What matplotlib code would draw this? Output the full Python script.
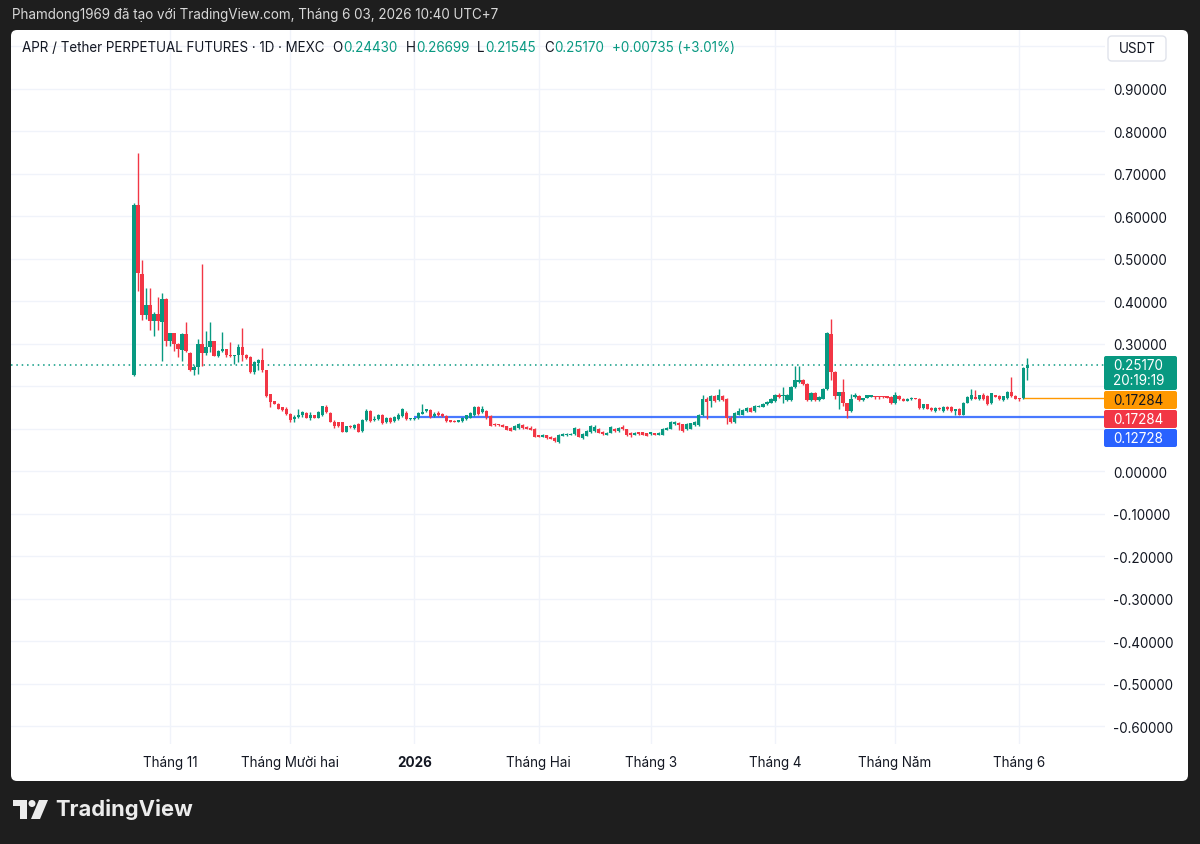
import matplotlib.pyplot as plt
import matplotlib.dates as mdates
from matplotlib.patches import FancyBboxPatch, Rectangle, Polygon, Circle
from matplotlib.transforms import IdentityTransform
import pandas as pd

plt.rcParams['font.family'] = ['Inter', 'DejaVu Sans']

W, H = 1200, 845
UP = '#089981'
DOWN = '#f23645'
INK = '#131722'
GRID = '#f0f3fa'

# daily candles APR/USDT perpetual, 23 Oct 2025 -> 3 Jun 2026
start = '2025-10-23'
opens = [
    0.226, 0.627, 0.465, 0.368, 0.391, 0.354, 0.370, 0.352,
    0.407, 0.308, 0.327, 0.300, 0.286, 0.323, 0.279, 0.238,
    0.246, 0.300, 0.278, 0.292, 0.307, 0.271, 0.284, 0.288,
    0.273, 0.271, 0.273, 0.292, 0.274, 0.269, 0.234, 0.256,
    0.263, 0.238, 0.182, 0.165, 0.159, 0.151, 0.148, 0.136,
    0.123, 0.128, 0.133, 0.137, 0.126, 0.133, 0.126, 0.133,
    0.152, 0.137, 0.117, 0.116, 0.116, 0.094, 0.108, 0.103,
    0.111, 0.095, 0.121, 0.142, 0.120, 0.124, 0.134, 0.117,
    0.126, 0.118, 0.124, 0.130, 0.138, 0.124, 0.124, 0.126,
    0.136, 0.142, 0.144, 0.131, 0.138, 0.136, 0.131, 0.121,
    0.119, 0.117, 0.118, 0.123, 0.126, 0.133, 0.152, 0.140,
    0.142, 0.131, 0.111, 0.111, 0.109, 0.106, 0.103, 0.098,
    0.102, 0.110, 0.105, 0.103, 0.101, 0.086, 0.081, 0.086,
    0.082, 0.079, 0.069, 0.084, 0.085, 0.086, 0.088, 0.100,
    0.078, 0.084, 0.092, 0.095, 0.101, 0.093, 0.087, 0.091,
    0.101, 0.095, 0.105, 0.099, 0.091, 0.086, 0.093, 0.093,
    0.090, 0.088, 0.090, 0.087, 0.087, 0.098, 0.101, 0.111,
    0.115, 0.111, 0.099, 0.101, 0.109, 0.109, 0.132, 0.171,
    0.166, 0.177, 0.168, 0.177, 0.170, 0.127, 0.116, 0.134,
    0.134, 0.142, 0.150, 0.142, 0.152, 0.152, 0.158, 0.162,
    0.166, 0.181, 0.177, 0.168, 0.168, 0.199, 0.210, 0.215,
    0.207, 0.168, 0.185, 0.168, 0.171, 0.194, 0.324, 0.234,
    0.177, 0.186, 0.160, 0.142, 0.175, 0.178, 0.168, 0.173,
    0.176, 0.177, 0.177, 0.177, 0.177, 0.176, 0.160, 0.177,
    0.171, 0.166, 0.170, 0.173, 0.171, 0.150, 0.158, 0.150,
    0.142, 0.150, 0.142, 0.152, 0.152, 0.142, 0.148, 0.134,
    0.162, 0.171, 0.176, 0.171, 0.179, 0.177, 0.160, 0.179,
    0.177, 0.168, 0.173, 0.187, 0.177, 0.173, 0.17284, 0.24430,
]
highs = [
    0.632, 0.749, 0.497, 0.432, 0.432, 0.375, 0.410, 0.421,
    0.408, 0.327, 0.327, 0.302, 0.325, 0.351, 0.281, 0.251,
    0.312, 0.488, 0.331, 0.351, 0.307, 0.287, 0.329, 0.288,
    0.304, 0.274, 0.300, 0.337, 0.277, 0.271, 0.261, 0.265,
    0.290, 0.238, 0.183, 0.167, 0.161, 0.152, 0.151, 0.137,
    0.133, 0.147, 0.142, 0.139, 0.140, 0.134, 0.142, 0.155,
    0.156, 0.139, 0.121, 0.117, 0.117, 0.108, 0.109, 0.111,
    0.113, 0.123, 0.146, 0.144, 0.130, 0.136, 0.136, 0.128,
    0.129, 0.131, 0.138, 0.150, 0.142, 0.127, 0.127, 0.141,
    0.158, 0.148, 0.146, 0.140, 0.142, 0.138, 0.133, 0.122,
    0.120, 0.122, 0.128, 0.134, 0.140, 0.153, 0.153, 0.153,
    0.144, 0.133, 0.113, 0.112, 0.111, 0.108, 0.104, 0.109,
    0.113, 0.112, 0.106, 0.106, 0.103, 0.087, 0.088, 0.087,
    0.083, 0.080, 0.088, 0.090, 0.090, 0.091, 0.104, 0.102,
    0.090, 0.097, 0.109, 0.110, 0.103, 0.095, 0.093, 0.107,
    0.103, 0.105, 0.109, 0.101, 0.092, 0.092, 0.094, 0.094,
    0.091, 0.094, 0.091, 0.092, 0.102, 0.105, 0.118, 0.118,
    0.116, 0.112, 0.113, 0.115, 0.118, 0.135, 0.181, 0.176,
    0.180, 0.180, 0.193, 0.179, 0.172, 0.130, 0.140, 0.150,
    0.147, 0.152, 0.152, 0.156, 0.157, 0.160, 0.166, 0.172,
    0.183, 0.185, 0.199, 0.183, 0.201, 0.249, 0.248, 0.217,
    0.209, 0.187, 0.187, 0.178, 0.197, 0.328, 0.359, 0.236,
    0.188, 0.218, 0.162, 0.183, 0.185, 0.180, 0.174, 0.181,
    0.180, 0.178, 0.178, 0.178, 0.178, 0.177, 0.186, 0.179,
    0.172, 0.172, 0.176, 0.174, 0.172, 0.159, 0.159, 0.151,
    0.151, 0.151, 0.153, 0.153, 0.153, 0.147, 0.150, 0.163,
    0.178, 0.193, 0.191, 0.181, 0.184, 0.179, 0.185, 0.181,
    0.179, 0.178, 0.189, 0.223, 0.179, 0.174, 0.246, 0.26699,
]
lows = [
    0.224, 0.425, 0.356, 0.358, 0.333, 0.319, 0.333, 0.259,
    0.296, 0.296, 0.284, 0.269, 0.259, 0.281, 0.236, 0.226,
    0.230, 0.249, 0.273, 0.281, 0.271, 0.269, 0.281, 0.269,
    0.269, 0.253, 0.257, 0.261, 0.265, 0.231, 0.230, 0.238,
    0.235, 0.176, 0.152, 0.158, 0.146, 0.142, 0.134, 0.116,
    0.116, 0.125, 0.129, 0.125, 0.121, 0.125, 0.125, 0.131,
    0.137, 0.116, 0.103, 0.105, 0.092, 0.092, 0.102, 0.101,
    0.092, 0.093, 0.119, 0.117, 0.118, 0.122, 0.112, 0.115,
    0.115, 0.116, 0.122, 0.128, 0.121, 0.122, 0.122, 0.124,
    0.135, 0.140, 0.126, 0.128, 0.130, 0.128, 0.116, 0.116,
    0.116, 0.116, 0.117, 0.122, 0.125, 0.131, 0.134, 0.138,
    0.124, 0.106, 0.107, 0.107, 0.104, 0.097, 0.095, 0.097,
    0.101, 0.101, 0.099, 0.097, 0.081, 0.080, 0.080, 0.077,
    0.076, 0.070, 0.066, 0.083, 0.084, 0.085, 0.087, 0.080,
    0.076, 0.083, 0.090, 0.094, 0.090, 0.087, 0.086, 0.090,
    0.094, 0.094, 0.097, 0.084, 0.082, 0.085, 0.087, 0.086,
    0.083, 0.087, 0.085, 0.086, 0.086, 0.097, 0.100, 0.110,
    0.098, 0.093, 0.097, 0.100, 0.108, 0.108, 0.130, 0.124,
    0.152, 0.164, 0.166, 0.166, 0.111, 0.114, 0.114, 0.132,
    0.132, 0.140, 0.139, 0.141, 0.151, 0.151, 0.156, 0.160,
    0.164, 0.173, 0.160, 0.166, 0.166, 0.197, 0.208, 0.203,
    0.166, 0.166, 0.166, 0.166, 0.170, 0.192, 0.216, 0.170,
    0.146, 0.155, 0.127, 0.140, 0.173, 0.166, 0.166, 0.172,
    0.175, 0.171, 0.171, 0.174, 0.172, 0.158, 0.158, 0.168,
    0.165, 0.165, 0.169, 0.170, 0.148, 0.148, 0.146, 0.143,
    0.140, 0.145, 0.141, 0.145, 0.141, 0.132, 0.133, 0.132,
    0.160, 0.169, 0.170, 0.169, 0.169, 0.156, 0.158, 0.175,
    0.169, 0.166, 0.171, 0.176, 0.170, 0.166, 0.170, 0.21545,
]
closes = [
    0.627, 0.467, 0.368, 0.391, 0.354, 0.370, 0.354, 0.407,
    0.308, 0.327, 0.300, 0.288, 0.323, 0.284, 0.238, 0.246,
    0.300, 0.278, 0.292, 0.307, 0.271, 0.284, 0.288, 0.273,
    0.271, 0.273, 0.292, 0.274, 0.266, 0.234, 0.257, 0.263,
    0.238, 0.178, 0.164, 0.159, 0.148, 0.144, 0.136, 0.121,
    0.129, 0.134, 0.140, 0.126, 0.133, 0.126, 0.139, 0.153,
    0.139, 0.117, 0.108, 0.108, 0.094, 0.108, 0.105, 0.109,
    0.094, 0.121, 0.142, 0.119, 0.124, 0.134, 0.115, 0.126,
    0.117, 0.128, 0.134, 0.146, 0.123, 0.125, 0.126, 0.138,
    0.140, 0.146, 0.128, 0.136, 0.132, 0.131, 0.118, 0.117,
    0.117, 0.121, 0.126, 0.132, 0.138, 0.152, 0.136, 0.148,
    0.128, 0.108, 0.109, 0.109, 0.105, 0.098, 0.096, 0.108,
    0.111, 0.102, 0.100, 0.098, 0.082, 0.081, 0.086, 0.078,
    0.077, 0.071, 0.086, 0.088, 0.088, 0.089, 0.102, 0.082,
    0.088, 0.095, 0.107, 0.105, 0.091, 0.088, 0.091, 0.105,
    0.095, 0.103, 0.099, 0.085, 0.085, 0.091, 0.088, 0.087,
    0.084, 0.093, 0.086, 0.091, 0.101, 0.103, 0.116, 0.116,
    0.109, 0.095, 0.111, 0.113, 0.116, 0.134, 0.171, 0.163,
    0.177, 0.166, 0.179, 0.168, 0.127, 0.116, 0.138, 0.142,
    0.145, 0.150, 0.140, 0.155, 0.155, 0.158, 0.163, 0.170,
    0.181, 0.176, 0.179, 0.181, 0.199, 0.215, 0.215, 0.205,
    0.168, 0.185, 0.168, 0.176, 0.195, 0.326, 0.234, 0.177,
    0.186, 0.160, 0.142, 0.171, 0.179, 0.168, 0.173, 0.179,
    0.179, 0.176, 0.176, 0.176, 0.173, 0.160, 0.179, 0.170,
    0.166, 0.171, 0.173, 0.171, 0.150, 0.158, 0.148, 0.144,
    0.150, 0.146, 0.152, 0.146, 0.142, 0.146, 0.134, 0.162,
    0.176, 0.179, 0.171, 0.179, 0.171, 0.158, 0.184, 0.176,
    0.170, 0.177, 0.187, 0.177, 0.171, 0.170, 0.24435, 0.25170,
]

price_levels = [1.0, 0.9, 0.8, 0.7, 0.6, 0.5, 0.4, 0.3, 0.2, 0.1, 0.0,
                -0.1, -0.2, -0.3, -0.4, -0.5, -0.6]
hidden_levels = [1.0, 0.2, 0.1]   # covered by the USDT box / price tags

month_ticks = ['2025-11-01', '2025-12-01', '2026-01-01', '2026-02-01',
               '2026-03-01', '2026-04-01', '2026-05-01', '2026-06-01']
month_labels = ['Tháng 11', 'Tháng Mười hai', '2026', 'Tháng Hai',
                'Tháng 3', 'Tháng 4', 'Tháng Năm', 'Tháng 6']

blue_level = 0.12728
blue_from = '2026-01-01'
orange_level = 0.17284
countdown = '20:19:19'

dates = pd.date_range(start, periods=len(closes), freq='D')
x = mdates.date2num(dates)

fig = plt.figure(figsize=(12, 8.45), dpi=100, facecolor='#1e1e1e')
px = IdentityTransform()


def P(xp, yp):
    # pixel coords, origin top-left
    return xp, H - yp


def box(x0, y0, x1, y1, fc, ec='none', r=2, z=5):
    b = FancyBboxPatch(P(x0, y1), x1 - x0, y1 - y0,
                       boxstyle=f'round,pad=0,rounding_size={r}',
                       transform=px, fc=fc, ec=ec, lw=1, zorder=z)
    fig.patches.append(b)


# white chart panel
box(11, 31, 1188, 782, 'white', r=6, z=-10)

ax = fig.add_axes([11 / W, 1 - 745 / H, (1105 - 11) / W, (745 - 31) / H])
ax.set_facecolor('none')
ax.set_xlim(x[0] - 30.7, x[0] + 242.4)
ax.set_ylim(-0.6412, 1.0388)

# candles
colors = [UP if c >= o else DOWN for o, c in zip(opens, closes)]
bottoms = [min(o, c) for o, c in zip(opens, closes)]
heights = [max(abs(c - o), 0.0018) for o, c in zip(opens, closes)]
ax.vlines(x, lows, highs, colors=colors, linewidth=1, zorder=3)
ax.bar(x, heights, bottom=bottoms, width=0.8, color=colors, linewidth=0, zorder=4)

# lines
ax.axhline(closes[-1], color=UP, lw=1.1, linestyle=(0, (1, 2.5)), zorder=2)
ax.hlines(blue_level, mdates.date2num(pd.Timestamp(blue_from)), ax.get_xlim()[1],
          color='#2962ff', lw=1.6, alpha=0.85, zorder=2)
ax.hlines(orange_level, x[-2], ax.get_xlim()[1], color='#ff9800', lw=1, zorder=2)

# axes / grid
for s in ax.spines.values():
    s.set_visible(False)
ax.yaxis.tick_right()
ax.set_yticks(price_levels)
ax.set_yticklabels(['' if v in hidden_levels else f'{v:.5f}' for v in price_levels])
ax.set_xticks(mdates.date2num(pd.to_datetime(month_ticks)))
ax.set_xticklabels(month_labels)
ax.get_xticklabels()[2].set_fontweight('bold')
ax.tick_params(axis='y', length=0, pad=6, labelsize=9.7, labelcolor=INK)
ax.tick_params(axis='x', length=0, pad=8, labelsize=9.7, labelcolor=INK)
ax.grid(True, color=GRID, lw=1, zorder=0)
ax.set_axisbelow(True)

# price tags on the right scale
box(1104, 357, 1177, 391, UP)
fig.text(1113, H - 366, f'{closes[-1]:.5f}', transform=px, color='white',
         fontsize=9.7, va='center', zorder=6)
fig.text(1113, H - 381, countdown, transform=px, color='white',
         fontsize=9.7, va='center', zorder=6)
box(1104, 392, 1177, 410, '#ff9800')
fig.text(1113, H - 401, f'{orange_level:.5f}', transform=px, color=INK,
         fontsize=9.7, va='center', zorder=6)
box(1104, 411, 1177, 429, DOWN)
fig.text(1113, H - 420, f'{orange_level:.5f}', transform=px, color='white',
         fontsize=9.7, va='center', zorder=6)
box(1104, 430, 1177, 448, '#2962ff')
fig.text(1113, H - 439, f'{blue_level:.5f}', transform=px, color='white',
         fontsize=9.7, va='center', zorder=6)

# currency box
box(1108, 37, 1166, 62, 'white', ec='#e0e3eb', r=4)
fig.text(1137, H - 49.5, 'USDT', transform=px, color=INK, fontsize=9.7,
         ha='center', va='center', zorder=6)

# top caption
fig.text(12, H - 15, 'Phamdong1969 đã tạo với TradingView.com, Tháng 6 03, 2026 10:40 UTC+7',
         transform=px, color='#d8d8d8', fontsize=9.7, va='center')

# legend line with OHLC values
renderer = fig.canvas.get_renderer()


def seg(xp, s, color):
    t = fig.text(xp, H - 48, s, transform=px, color=color, fontsize=9.7,
                 va='center', zorder=6)
    return xp + t.get_window_extent(renderer).width


change = closes[-1] - closes[-2]
pct = change / closes[-2] * 100
xc = seg(22, 'APR / Tether PERPETUAL FUTURES · 1D · MEXC', INK) + 8
for letter, val in zip('OHLC', [opens[-1], highs[-1], lows[-1], closes[-1]]):
    xc = seg(xc, letter, INK) + 0.5
    xc = seg(xc, f'{val:.5f}', UP) + 8
seg(xc, f'+{change:.5f} (+{pct:.2f}%)', UP)

# TradingView logo
logo = '#ececec'
fig.patches.append(Rectangle(P(13, 807), 14, 6, transform=px, fc=logo, ec='none'))
fig.patches.append(Rectangle(P(20, 820), 7, 19, transform=px, fc=logo, ec='none'))
fig.patches.append(Circle(P(32, 804.5), 3.5, transform=px, fc=logo, ec='none'))
fig.patches.append(Polygon([P(39, 801), P(48, 801), P(40, 820), P(31, 820)],
                           closed=True, transform=px, fc=logo, ec='none'))
fig.text(55, H - 810, 'TradingView', transform=px, color=logo, fontsize=15.8,
         fontweight='bold', va='center')

fig.savefig('out.png', dpi=100, facecolor=fig.get_facecolor())
